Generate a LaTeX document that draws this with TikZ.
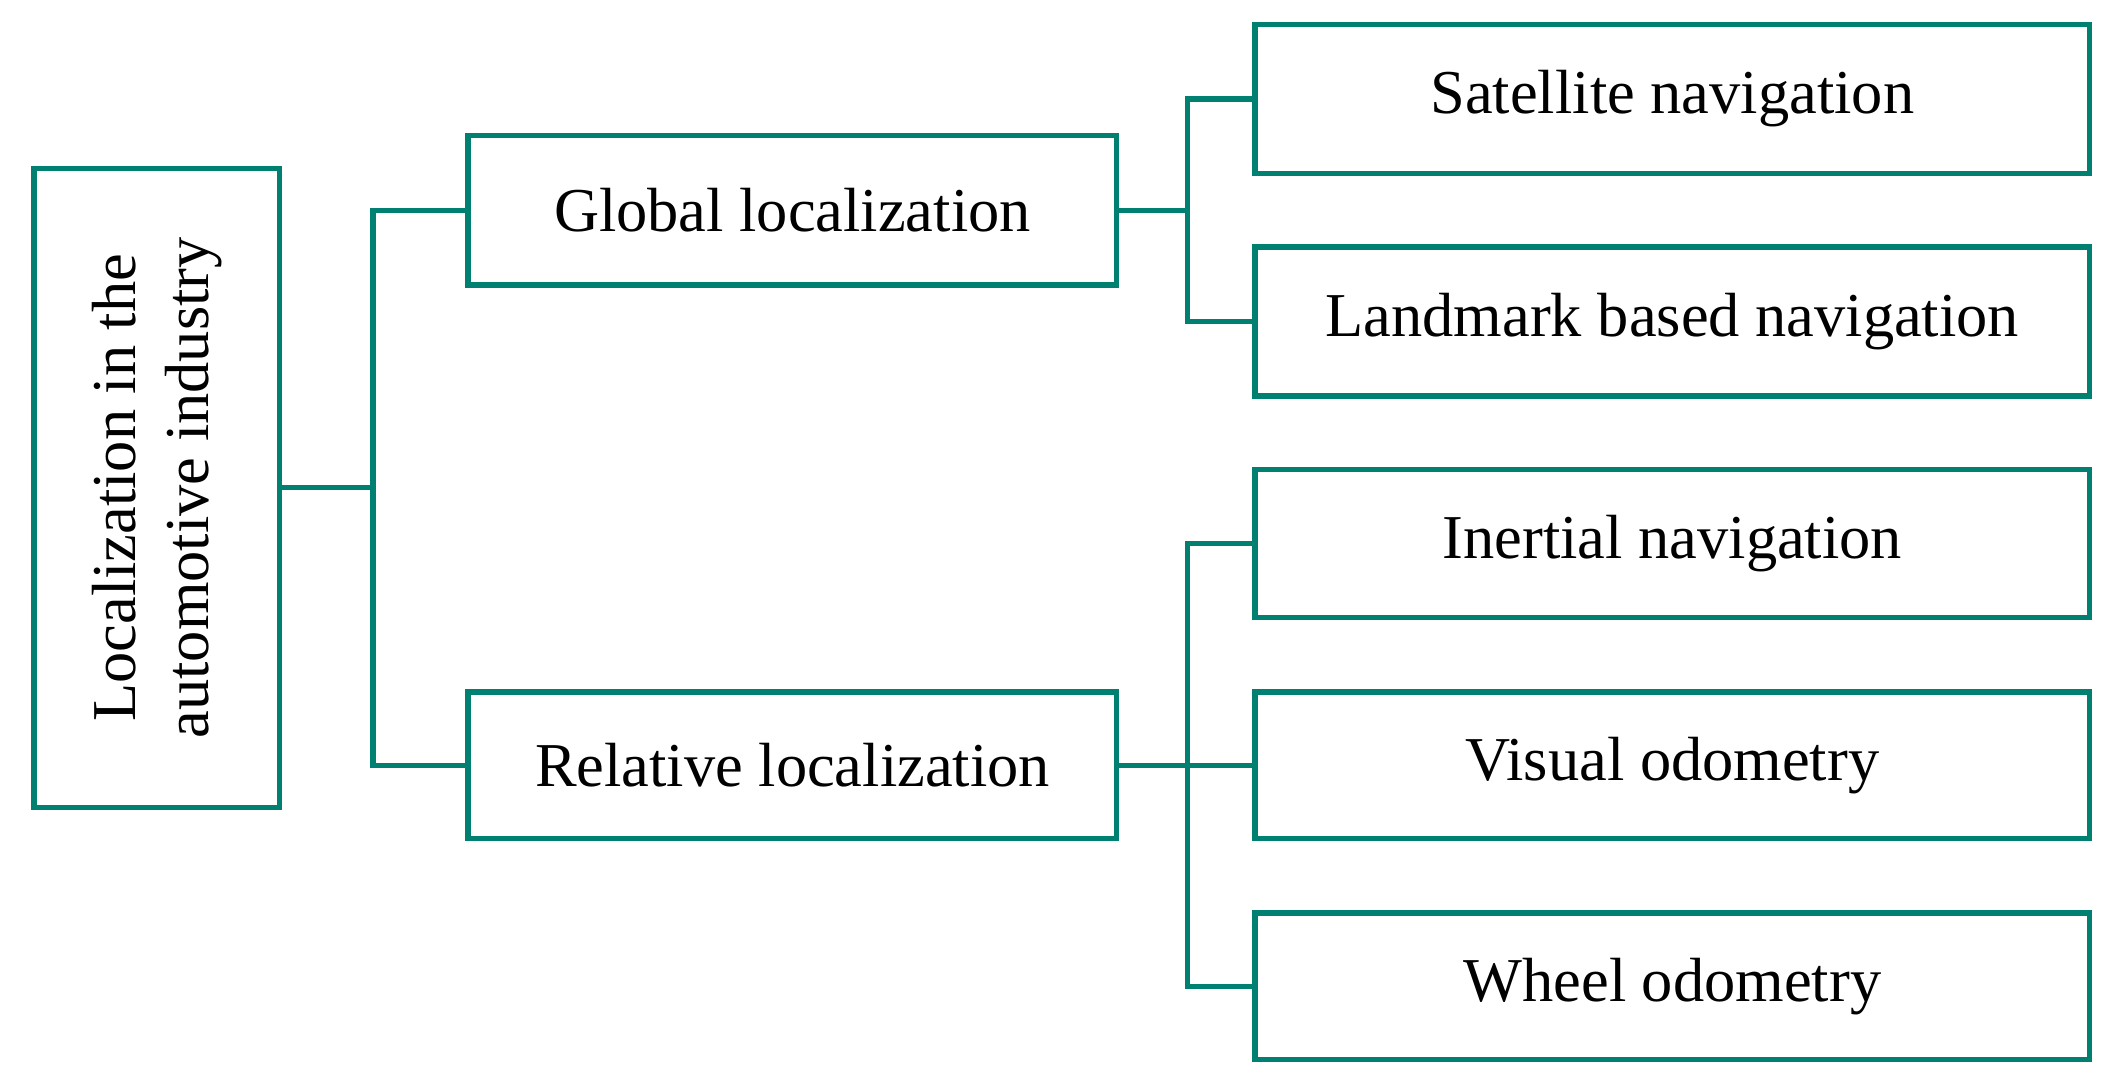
\documentclass[tikz,border=0pt]{standalone}
\usepackage{fontspec}
\setmainfont{Liberation Serif}
\definecolor{teal1}{RGB}{0,128,112}
\begin{document}
\begin{tikzpicture}[x=0.5pt,y=-0.5pt,
 box/.style={draw=teal1,line width=2pt,inner sep=0pt,font=\fontsize{23}{27}\selectfont},
 ln/.style={draw=teal1,line width=2pt}]
\useasboundingbox (0,0) rectangle (1561,796);
\node[box,minimum width=90.5pt,minimum height=235.5pt,align=center] (root) at (115.5,359.5) {};
\node[rotate=90,align=center,font=\fontsize{23}{27}\selectfont] at (root.center) {Localization in the\\automotive industry};
\node[box,minimum width=239pt,minimum height=55pt] (g) at (584,155) {Global localization};
\node[box,minimum width=239pt,minimum height=54pt] (r) at (584,564) {Relative localization};
\node[box,minimum width=307.5pt,minimum height=55pt] (s) at (1232.5,73) {Satellite navigation};
\node[box,minimum width=307.5pt,minimum height=55pt] (l) at (1232.5,237) {Landmark based navigation};
\node[box,minimum width=307.5pt,minimum height=54.5pt] (i) at (1232.5,400.5) {Inertial navigation};
\node[box,minimum width=307.5pt,minimum height=54pt] (v) at (1232.5,564) {Visual odometry};
\node[box,minimum width=307.5pt,minimum height=54pt] (w) at (1232.5,727) {Wheel odometry};
\draw[ln] (root.east) -- (275,359.5);
\draw[ln] (g.west) -| (275,359.5) |- (r.west);
\draw[ln] (g.east) -- (875,155);
\draw[ln] (s.west) -| (875,155) |- (l.west);
\draw[ln] (r.east) -- (v.west);
\draw[ln] (i.west) -| (875,564) |- (w.west);
\end{tikzpicture}
\end{document}
